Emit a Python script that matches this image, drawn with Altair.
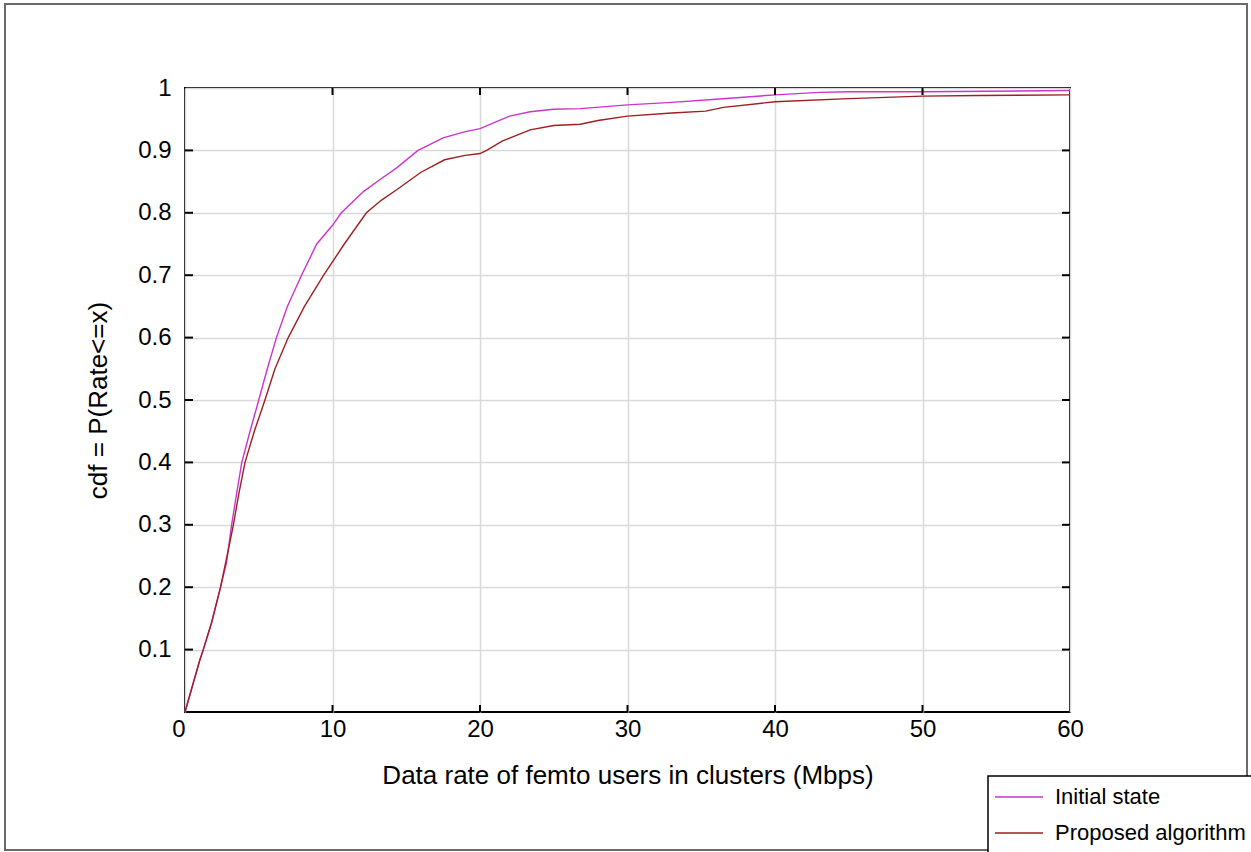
import altair as alt
import pandas as pd

# ---- data ----
series_names = ["Initial state", "Proposed algorithm"]
series_colors = ["#cc33cc", "#9e1f1f"]

x_init = [0, 1.0, 1.24, 1.8, 2.41, 2.82, 3.16, 3.5, 3.85, 4.41, 5.0, 5.58, 6.2,
          6.94, 7.9, 8.93, 10.0, 10.6, 12.1, 13.2, 14.35, 15.8, 17.5, 19.0, 20.0, 21.0,
          22.0, 23.4, 25.0, 26.8, 30.0, 33.0, 36.0, 40.0, 43.0, 45.0, 50.0, 60.0]
cdf_init = [0, 0.083, 0.10, 0.143, 0.20, 0.24, 0.30, 0.35, 0.40, 0.45, 0.50,
            0.55, 0.60, 0.65, 0.70, 0.75, 0.78, 0.80, 0.834, 0.853, 0.872, 0.90, 0.92,
            0.93, 0.935, 0.945, 0.955, 0.962, 0.966, 0.967, 0.973, 0.977, 0.982, 0.989,
            0.993, 0.994, 0.994, 0.996]

x_prop = [0, 1.0, 1.24, 1.8, 2.41, 2.85, 3.28, 3.65, 4.07, 4.7, 5.42, 6.1, 7.0,
          8.1, 9.4, 10.8, 12.3, 13.3, 14.35, 16.0, 17.6, 19.0, 20.0, 20.45, 21.5, 23.4,
          25.0, 26.8, 28.0, 30.0, 33.0, 35.3, 36.5, 40.0, 45.0, 50.0, 53.8, 60.0]
cdf_prop = [0, 0.083, 0.10, 0.143, 0.20, 0.25, 0.30, 0.35, 0.40, 0.45, 0.50,
            0.55, 0.60, 0.65, 0.70, 0.75, 0.80, 0.82, 0.837, 0.865, 0.885, 0.892, 0.895,
            0.90, 0.915, 0.933, 0.94, 0.942, 0.948, 0.955, 0.96, 0.963, 0.969, 0.978,
            0.983, 0.987, 0.988, 0.989]

x_ticks = [0, 10, 20, 30, 40, 50, 60]
y_ticks = [0.1, 0.2, 0.3, 0.4, 0.5, 0.6, 0.7, 0.8, 0.9, 1.0]
x_inner_ticks = [10, 20, 30, 40, 50]
y_inner_ticks = [0.1, 0.2, 0.3, 0.4, 0.5, 0.6, 0.7, 0.8, 0.9]

x_title = "Data rate of femto users in clusters (Mbps)"
y_title = "cdf = P(Rate<=x)"

# ---- layout ----
W, H = 885, 624
PAD_L, PAD_T = 185, 88
FONT = "Liberation Sans"

lines_df = pd.concat([
    pd.DataFrame({"x": x_init, "cdf": cdf_init, "series": series_names[0], "order": range(len(x_init))}),
    pd.DataFrame({"x": x_prop, "cdf": cdf_prop, "series": series_names[1], "order": range(len(x_prop))}),
])

xscale = alt.Scale(domain=[0, 60], nice=False, zero=False)
yscale = alt.Scale(domain=[0, 1], nice=False, zero=False)

xaxis = alt.Axis(
    values=x_ticks, format="d", grid=True, gridColor="#d9d9d9", gridWidth=1.5,
    ticks=False, domain=False, labelFont=FONT, labelFontSize=24, labelColor="black",
    labelPadding=5,
    labelAlign={"condition": {"test": "datum.value == 0", "value": "right"}, "value": "center"},
    title=x_title, titleFont=FONT, titleFontSize=26, titleFontWeight="normal",
    titleColor="black", titleY=63, titleBaseline="middle",
)
yaxis = alt.Axis(
    values=y_ticks, format=".1~f", grid=True, gridColor="#d9d9d9", gridWidth=1.5,
    ticks=False, domain=False, labelFont=FONT, labelFontSize=24, labelColor="black",
    labelPadding=14,
    title=y_title, titleFont=FONT, titleFontSize=26, titleFontWeight="normal",
    titleColor="black", titleX=-87, titleY=H / 2, titleBaseline="middle",
)

X = alt.X("x:Q", scale=xscale, axis=xaxis)
Y = alt.Y("cdf:Q", scale=yscale, axis=yaxis)

curves = alt.Chart(lines_df).mark_line(strokeWidth=1.4).encode(
    x=X, y=Y,
    color=alt.Color("series:N", scale=alt.Scale(domain=series_names, range=series_colors), legend=None),
    order="order:Q",
)

# outer border
border = alt.Chart(pd.DataFrame({"a": [0]})).mark_rect(
    fillOpacity=0, stroke="#6a6a6a", strokeWidth=2
).encode(
    x=alt.value(5 - PAD_L), x2=alt.value(1247 - PAD_L),
    y=alt.value(4 - PAD_T), y2=alt.value(850 - PAD_T),
)

xt_df = pd.DataFrame({"x": x_inner_ticks})
yt_df = pd.DataFrame({"cdf": y_inner_ticks})
tick_color = "black"
bottom_ticks = alt.Chart(xt_df).mark_rule(color=tick_color, strokeWidth=2).encode(
    x=X, y=alt.value(H), y2=alt.value(H - 7))
top_ticks = alt.Chart(xt_df).mark_rule(color=tick_color, strokeWidth=2).encode(
    x=X, y=alt.value(0), y2=alt.value(7))
left_ticks = alt.Chart(yt_df).mark_rule(color=tick_color, strokeWidth=2).encode(
    y=Y, x=alt.value(0), x2=alt.value(8))
right_ticks = alt.Chart(yt_df).mark_rule(color=tick_color, strokeWidth=2).encode(
    y=Y, x=alt.value(W), x2=alt.value(W - 8))

# legend box (bottom right, partially outside the page as in the reference)
leg_x0, leg_y0 = 988 - PAD_L, 776 - PAD_T
legend_box = alt.Chart(pd.DataFrame({"a": [0]})).mark_rect(
    fill="white", stroke="black", strokeWidth=1.5
).encode(
    x=alt.value(leg_x0), x2=alt.value(1290 - PAD_L),
    y=alt.value(leg_y0), y2=alt.value(900 - PAD_T),
)
legend_layers = [legend_box]
row_y = [797 - PAD_T, 833 - PAD_T]
for name, col, ry in zip(series_names, series_colors, row_y):
    one = pd.DataFrame({"series": [name]})
    legend_layers.append(
        alt.Chart(one).mark_rule(color=col, strokeWidth=1.5).encode(
            x=alt.value(995 - PAD_L), x2=alt.value(1043 - PAD_L), y=alt.value(ry))
    )
    legend_layers.append(
        alt.Chart(one).mark_text(align="left", baseline="middle", font=FONT,
                                 fontSize=22, color="black").encode(
            x=alt.value(1055 - PAD_L), y=alt.value(ry), text="series:N")
    )

chart = alt.layer(
    curves, border, bottom_ticks, top_ticks, left_ticks, right_ticks, *legend_layers
).properties(
    width=W, height=H,
    autosize=alt.AutoSizeParams(type="none"),
    padding={"left": PAD_L, "top": PAD_T, "right": 1251 - PAD_L - W, "bottom": 852 - PAD_T - H},
    background="white",
).configure_view(
    stroke="black", strokeWidth=2
)

chart.save("out.html", embed_options={"renderer": "svg", "actions": False})
